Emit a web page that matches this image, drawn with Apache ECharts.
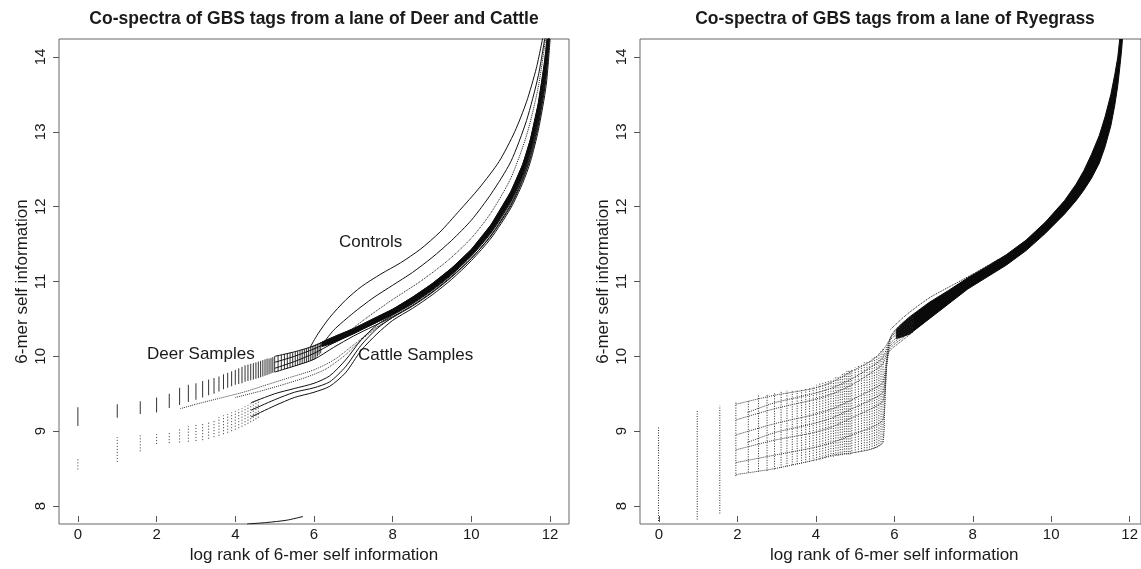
<!DOCTYPE html>
<html><head><meta charset="utf-8">
<script src="https://cdn.jsdelivr.net/npm/echarts@6/dist/echarts.min.js"></script>
<style>html,body{margin:0;padding:0;background:#fff}#c{width:1141px;height:569px}</style>
</head><body><div id="c"></div>
<script>
// ---------- tick labels ----------
const xTicks = [0, 2, 4, 6, 8, 10, 12];
const yTicks = [8, 9, 10, 11, 12, 13, 14];
const titleLeft = 'Co-spectra of GBS tags from a lane of Deer and Cattle';
const titleRight = 'Co-spectra of GBS tags from a lane of Ryegrass';
const xName = 'log rank of 6-mer self information';
const yName = '6-mer self information';

// ---------- LEFT PANEL: per-rank columns (x = log2 rank) ----------
const deerColX = [0,1,1.585,2,2.322,2.585,2.807,3,3.17,3.322,3.459,3.585,3.7,3.807,3.907,4,4.087,4.17,4.248,4.322,4.392,4.459,4.524,4.585,4.644,4.7,4.755,4.807,4.858,4.907,4.954,5,5.087,5.17,5.248,5.322,5.392,5.459,5.524,5.585,5.644,5.7,5.755,5.807,5.858,5.907,5.954,6,6.044,6.087,6.129,6.17];
const deerColLo = [9.07,9.18,9.23,9.25,9.31,9.35,9.39,9.42,9.45,9.48,9.50,9.53,9.56,9.58,9.60,9.62,9.63,9.64,9.66,9.67,9.68,9.69,9.70,9.71,9.72,9.73,9.74,9.75,9.76,9.77,9.78,9.79,9.80,9.82,9.83,9.84,9.85,9.86,9.87,9.88,9.89,9.90,9.91,9.92,9.93,9.94,9.95,9.96,9.98,10.00,10.02,10.04];
const deerColHi = [9.32,9.36,9.40,9.45,9.50,9.58,9.62,9.64,9.67,9.69,9.71,9.73,9.76,9.78,9.80,9.82,9.84,9.86,9.88,9.89,9.90,9.91,9.92,9.93,9.94,9.95,9.96,9.97,9.97,9.98,9.99,10.00,10.01,10.02,10.03,10.04,10.05,10.05,10.06,10.07,10.08,10.09,10.10,10.11,10.12,10.13,10.14,10.15,10.16,10.17,10.18,10.19];

const cattleColX = [0,1,1.585,2,2.322,2.585,2.807,3,3.17,3.322,3.459,3.585,3.7,3.807,3.907,4,4.087,4.17,4.248,4.322,4.392,4.459,4.524,4.585];
const cattleColLo = [8.49,8.59,8.73,8.83,8.84,8.85,8.86,8.87,8.88,8.90,8.92,8.94,8.96,8.98,9.00,9.02,9.04,9.06,9.08,9.10,9.12,9.14,9.16,9.18];
const cattleColHi = [8.63,8.92,8.96,8.96,8.99,9.05,9.07,9.09,9.11,9.13,9.16,9.19,9.21,9.23,9.25,9.27,9.29,9.31,9.33,9.35,9.37,9.39,9.41,9.43];

// ---------- LEFT PANEL: sample curves ----------
const deer1 = [[5.0,10.00],[5.5,10.06],[6.0,10.14],[6.5,10.26],[7.0,10.37],[7.5,10.50],[8.0,10.63],[8.5,10.79],[9.0,10.97],[9.5,11.18],[10.0,11.43],[10.5,11.76],[11.0,12.20],[11.3,12.56],[11.5,12.90],[11.7,13.38],[11.85,13.90],[11.93,14.30]];
const deer2 = [[5.0,9.92],[5.5,10.00],[6.0,10.10],[6.5,10.22],[7.0,10.34],[7.5,10.46],[8.0,10.59],[8.5,10.74],[9.0,10.92],[9.5,11.13],[10.0,11.38],[10.5,11.70],[11.0,12.13],[11.3,12.48],[11.5,12.82],[11.7,13.28],[11.85,13.78],[11.96,14.30]];
const deer3 = [[5.0,9.84],[5.5,9.93],[6.0,10.04],[6.5,10.18],[7.0,10.31],[7.5,10.43],[8.0,10.56],[8.5,10.71],[9.0,10.89],[9.5,11.10],[10.0,11.35],[10.5,11.66],[11.0,12.08],[11.3,12.42],[11.5,12.75],[11.7,13.20],[11.85,13.70],[11.97,14.30]];
const deer4 = [[5.0,9.79],[5.5,9.87],[6.0,9.96],[6.5,10.12],[7.0,10.27],[7.5,10.40],[8.0,10.53],[8.5,10.68],[9.0,10.86],[9.5,11.07],[10.0,11.31],[10.5,11.62],[11.0,12.03],[11.3,12.37],[11.5,12.68],[11.7,13.12],[11.88,13.70],[11.98,14.30]];
const leftBandTop = [[6.2,10.19],[6.5,10.26],[7.0,10.37],[7.5,10.50],[8.0,10.63],[8.5,10.79],[9.0,10.97],[9.5,11.18],[10.0,11.43],[10.5,11.76],[11.0,12.20],[11.3,12.56],[11.5,12.90],[11.7,13.38],[11.85,13.90],[11.93,14.24]];
const leftBandBottom = [[6.2,10.13],[6.5,10.18],[7.0,10.30],[7.5,10.43],[8.0,10.56],[8.5,10.71],[9.0,10.89],[9.5,11.10],[10.0,11.35],[10.5,11.66],[11.0,12.08],[11.3,12.42],[11.5,12.75],[11.7,13.20],[11.87,13.75],[11.97,14.24]];
const cattle1 = [[4.4,9.38],[5.0,9.50],[5.5,9.57],[6.0,9.64],[6.4,9.74],[6.8,9.95],[7.2,10.22],[7.6,10.42],[8.0,10.55],[8.5,10.70],[9.0,10.88],[9.5,11.09],[10.0,11.34],[10.5,11.65],[11.0,12.06],[11.3,12.40],[11.5,12.72],[11.7,13.16],[11.87,13.70],[11.97,14.30]];
const cattle2 = [[4.4,9.28],[5.0,9.42],[5.5,9.52],[6.0,9.58],[6.4,9.66],[6.8,9.86],[7.2,10.15],[7.6,10.37],[8.0,10.52],[8.5,10.67],[9.0,10.85],[9.5,11.06],[10.0,11.31],[10.5,11.61],[11.0,12.01],[11.3,12.35],[11.5,12.65],[11.7,13.08],[11.89,13.68],[11.99,14.30]];
const cattle3 = [[4.4,9.19],[5.0,9.34],[5.5,9.45],[6.0,9.52],[6.4,9.60],[6.8,9.78],[7.2,10.08],[7.6,10.30],[8.0,10.48],[8.5,10.64],[9.0,10.82],[9.5,11.03],[10.0,11.28],[10.5,11.58],[11.0,11.98],[11.3,12.31],[11.5,12.60],[11.7,13.02],[11.9,13.62],[12.0,14.24]];
const mid1 = [[2.6,9.30],[3.0,9.36],[3.6,9.44],[4.2,9.52],[4.8,9.62],[5.4,9.72],[6.0,9.82],[6.5,9.95],[7.0,10.15],[7.5,10.36],[8.0,10.52]];
const mid2 = [[4.0,9.45],[4.6,9.53],[5.2,9.62],[5.8,9.72],[6.3,9.83],[6.8,10.02],[7.2,10.22],[7.7,10.42],[8.2,10.58]];
const ctrl1 = [[5.9,10.12],[6.1,10.30],[6.4,10.52],[6.8,10.75],[7.2,10.93],[7.7,11.10],[8.2,11.25],[8.7,11.43],[9.2,11.66],[9.7,11.95],[10.2,12.25],[10.7,12.60],[11.1,13.00],[11.4,13.40],[11.65,13.85],[11.83,14.30]];
const ctrl2 = [[6.2,10.15],[6.5,10.35],[7.0,10.58],[7.5,10.78],[8.0,10.95],[8.5,11.12],[9.0,11.32],[9.5,11.55],[10.0,11.82],[10.5,12.17],[11.0,12.60],[11.4,13.15],[11.7,13.75],[11.88,14.30]];
const ctrl3 = [[6.8,10.30],[7.3,10.50],[8.0,10.76],[8.7,11.00],[9.4,11.28],[10.0,11.58],[10.5,11.92],[11.0,12.38],[11.4,12.95],[11.7,13.60],[11.9,14.30]];
const lowSample = [[4.3,7.76],[4.8,7.78],[5.3,7.81],[5.72,7.86]];

// ---------- RIGHT PANEL (Ryegrass) ----------
const ryeColX = [0,1,1.585,2,2.322,2.585,2.807,3,3.17,3.322,3.459,3.585,3.7,3.807,3.907,4,4.087,4.17,4.248,4.322,4.392,4.459,4.524,4.585,4.644,4.7,4.755,4.807,4.858,4.907,4.954,5,5.087,5.17,5.248,5.322,5.392,5.459,5.524,5.585,5.644,5.7,5.755,5.807];
const ryeColLo = [7.80,7.82,7.90,8.40,8.45,8.46,8.47,8.49,8.51,8.53,8.55,8.56,8.57,8.58,8.59,8.60,8.61,8.62,8.63,8.64,8.65,8.66,8.66,8.67,8.67,8.68,8.68,8.69,8.69,8.69,8.69,8.70,8.71,8.72,8.73,8.74,8.74,8.75,8.76,8.77,8.78,8.80,8.82,8.85];
const ryeColHi = [9.05,9.29,9.34,9.39,9.41,9.48,9.50,9.52,9.53,9.54,9.55,9.56,9.57,9.58,9.59,9.60,9.62,9.64,9.65,9.67,9.68,9.69,9.70,9.72,9.73,9.75,9.77,9.78,9.80,9.81,9.82,9.83,9.85,9.88,9.90,9.92,9.94,9.95,9.97,9.99,10.01,10.04,10.07,10.10];
const ryeS1 = [[2,9.36],[3,9.48],[4,9.57],[4.5,9.66],[5,9.80],[5.5,9.94],[5.8,10.08],[5.95,10.20],[6.1,10.34],[6.3,10.44],[6.6,10.55]];
const ryeS7 = [[2.3,9.25],[3,9.38],[4,9.50],[4.5,9.58],[5,9.70],[5.5,9.86],[5.8,9.98],[5.92,10.14],[6.05,10.30],[6.3,10.41],[6.6,10.52]];
const ryeS2 = [[2,9.15],[3,9.30],[4,9.42],[4.5,9.50],[5,9.62],[5.5,9.78],[5.8,9.90],[5.9,10.05],[6.02,10.26],[6.3,10.38],[6.6,10.48]];
const ryeS3 = [[2,8.95],[3,9.10],[4,9.22],[4.5,9.30],[5,9.42],[5.5,9.55],[5.8,9.65],[5.88,9.90],[6.0,10.22],[6.3,10.34],[6.6,10.45]];
const ryeS8 = [[2.3,8.85],[3,8.98],[4,9.10],[4.5,9.18],[5,9.30],[5.5,9.42],[5.8,9.52],[5.88,9.80],[5.98,10.16],[6.3,10.30],[6.6,10.42]];
const ryeS4 = [[2,8.75],[3,8.88],[4,8.98],[4.5,9.06],[5,9.18],[5.5,9.30],[5.8,9.40],[5.87,9.70],[5.97,10.12],[6.3,10.27],[6.6,10.39]];
const ryeS5 = [[2,8.58],[3,8.68],[4,8.78],[4.5,8.85],[5,8.95],[5.5,9.05],[5.8,9.15],[5.86,9.50],[5.96,10.08],[6.3,10.24],[6.6,10.36]];
const ryeS6 = [[2,8.42],[3,8.50],[4,8.61],[4.5,8.68],[5,8.71],[5.5,8.76],[5.8,8.85],[5.85,9.30],[5.95,10.04],[6.3,10.21],[6.6,10.33]];
const ryeBandTop = [[6.15,10.36],[6.3,10.44],[6.5,10.53],[7.0,10.72],[7.5,10.88],[8.0,11.05],[8.5,11.20],[9.0,11.36],[9.5,11.55],[10.0,11.79],[10.5,12.08],[10.8,12.30],[11.0,12.48],[11.2,12.70],[11.4,12.95],[11.55,13.20],[11.7,13.50],[11.8,13.76],[11.88,14.00],[11.93,14.24]];
const ryeBandBottom = [[6.15,10.24],[6.3,10.26],[6.5,10.30],[7.0,10.50],[7.5,10.70],[8.0,10.90],[8.5,11.06],[9.0,11.22],[9.5,11.41],[10.0,11.64],[10.5,11.90],[10.8,12.08],[11.0,12.22],[11.2,12.38],[11.4,12.58],[11.55,12.80],[11.7,13.08],[11.8,13.35],[11.88,13.62],[11.94,13.90],[11.98,14.10],[12.0,14.24]];
const ryeLoose1 = [[6.0,10.36],[6.4,10.55],[7.0,10.78],[7.6,10.95],[8.2,11.12],[8.8,11.30]];

// ---------- rendering ----------
const FONT = "'Liberation Sans', Arial, Helvetica, sans-serif";
const TXT = '#1a1a1a';

function colSeries(xs, lo, hi, ai, style) {
  return {
    type: 'custom', coordinateSystem: 'cartesian2d', xAxisIndex: ai, yAxisIndex: ai,
    clip: true, silent: true, animation: false,
    data: xs.map((x, i) => [x, lo[i], hi[i]]),
    encode: { x: 0, y: [1, 2] },
    renderItem: function (params, api) {
      const a = api.coord([api.value(0), api.value(1)]);
      const b = api.coord([api.value(0), api.value(2)]);
      return { type: 'line', shape: { x1: a[0], y1: a[1], x2: b[0], y2: b[1] },
        style: Object.assign({ stroke: '#222', lineWidth: 1 }, style) };
    }
  };
}
function curve(data, ai, style) {
  return {
    type: 'line', data: data, xAxisIndex: ai, yAxisIndex: ai,
    symbol: 'none', showSymbol: false, smooth: 0.25,
    silent: true, clip: true, animation: false,
    lineStyle: Object.assign({ color: '#111', width: 1 }, style || {})
  };
}
function band(top, bottom, ai) {
  return {
    type: 'custom', coordinateSystem: 'cartesian2d', xAxisIndex: ai, yAxisIndex: ai,
    clip: true, silent: true, animation: false,
    data: [[top[0][0], top[0][1]]],
    renderItem: function (params, api) {
      const pts = top.map(p => api.coord(p)).concat(bottom.slice().reverse().map(p => api.coord(p)));
      return { type: 'polygon', shape: { points: pts }, style: { fill: '#0a0a0a', stroke: '#0a0a0a', lineWidth: 1 } };
    }
  };
}
// hidden data axes (R-style 4% padding around 0..12 and 8..14)
function xData(gi) { return { gridIndex: gi, type: 'value', min: -0.48, max: 12.48, show: false }; }
function yData(gi) { return { gridIndex: gi, type: 'value', min: 7.76, max: 14.24, show: false }; }
function hid(gi) { return { gridIndex: gi, type: 'value', min: 0, max: 1, show: false }; }
// visible tick axes, each on its own grid so the axis sits on the box edge
function xTick(gi) {
  return {
    gridIndex: gi, type: 'value', min: xTicks[0], max: xTicks[xTicks.length - 1], interval: 2,
    position: 'bottom',
    axisLine: { show: false }, splitLine: { show: false },
    axisTick: { show: true, length: 6, lineStyle: { color: '#555' } },
    axisLabel: { margin: 11, fontSize: 15, color: TXT, fontFamily: FONT },
    name: xName, nameLocation: 'middle', nameGap: 31,
    nameTextStyle: { fontSize: 17, color: TXT, fontFamily: FONT }
  };
}
function yTick(gi) {
  return {
    gridIndex: gi, type: 'value', min: yTicks[0], max: yTicks[yTicks.length - 1], interval: 1,
    position: 'left',
    axisLine: { show: false }, splitLine: { show: false },
    axisTick: { show: true, length: 6, lineStyle: { color: '#555' } },
    axisLabel: { margin: 11, rotate: 90, fontSize: 15, color: TXT, fontFamily: FONT },
    name: yName, nameLocation: 'middle', nameGap: 28,
    nameTextStyle: { fontSize: 17, color: TXT, fontFamily: FONT }
  };
}
function txt(s, x, y, bold, align, size) {
  return { type: 'text', x: x, y: y, silent: true,
    style: { text: s, font: (bold ? 'bold ' : '') + (size || 17) + 'px ' + FONT, fill: TXT,
      textAlign: align || 'center', textVerticalAlign: 'middle', align: align || 'center', verticalAlign: 'middle' } };
}

const L = 0, R = 1;
const dot = { type: 'dotted', color: '#333' };
const series = [
  colSeries(deerColX, deerColLo, deerColHi, L, { stroke: '#333', lineWidth: 1 }),
  colSeries(cattleColX, cattleColLo, cattleColHi, L, { stroke: '#333', lineWidth: 1, lineDash: [1, 2] }),
  curve(mid1, L, dot), curve(mid2, L, dot),
  curve(cattle1, L), curve(cattle2, L), curve(cattle3, L),
  curve(deer1, L), curve(deer2, L), curve(deer3, L), curve(deer4, L),
  band(leftBandTop, leftBandBottom, L),
  curve(ctrl1, L), curve(ctrl2, L), curve(ctrl3, L, { type: 'dotted' }),
  curve(lowSample, L),
  colSeries(ryeColX, ryeColLo, ryeColHi, R, { stroke: '#2a2a2a', lineWidth: 1, lineDash: [1, 1.5] }),
  curve(ryeS1, R, dot), curve(ryeS2, R, dot), curve(ryeS3, R, dot), curve(ryeS4, R, dot),
  curve(ryeS5, R, dot), curve(ryeS6, R, dot), curve(ryeS7, R, dot), curve(ryeS8, R, dot),
  band(ryeBandTop, ryeBandBottom, R),
  curve(ryeLoose1, R, { type: 'dotted' })
];

const chart = echarts.init(document.getElementById('c'), null, { renderer: 'canvas' });
chart.setOption({
  animation: false,
  backgroundColor: '#fff',
  grid: [
    { left: 59, top: 39, width: 510, height: 485, show: true, borderColor: '#666', borderWidth: 1, backgroundColor: 'rgba(0,0,0,0)' },
    { left: 640, top: 39, width: 510, height: 485, show: true, borderColor: '#666', borderWidth: 1, backgroundColor: 'rgba(0,0,0,0)' },
    { left: 78, top: 39, width: 472, height: 485 },
    { left: 659, top: 39, width: 472, height: 485 },
    { left: 59, top: 57, width: 510, height: 449 },
    { left: 640, top: 57, width: 510, height: 449 }
  ],
  xAxis: [xData(0), xData(1), xTick(2), xTick(3), hid(4), hid(5)],
  yAxis: [yData(0), yData(1), hid(2), hid(3), yTick(4), yTick(5)],
  series: series,
  graphic: [
    txt(titleLeft, 314, 19, true, 'center', 17.5),
    txt(titleRight, 895, 19, true, 'center', 17.5),
    txt('Controls', 339, 242, false, 'left'),
    txt('Deer Samples', 147, 354, false, 'left'),
    txt('Cattle Samples', 358, 355, false, 'left')
  ]
});
</script></body></html>
